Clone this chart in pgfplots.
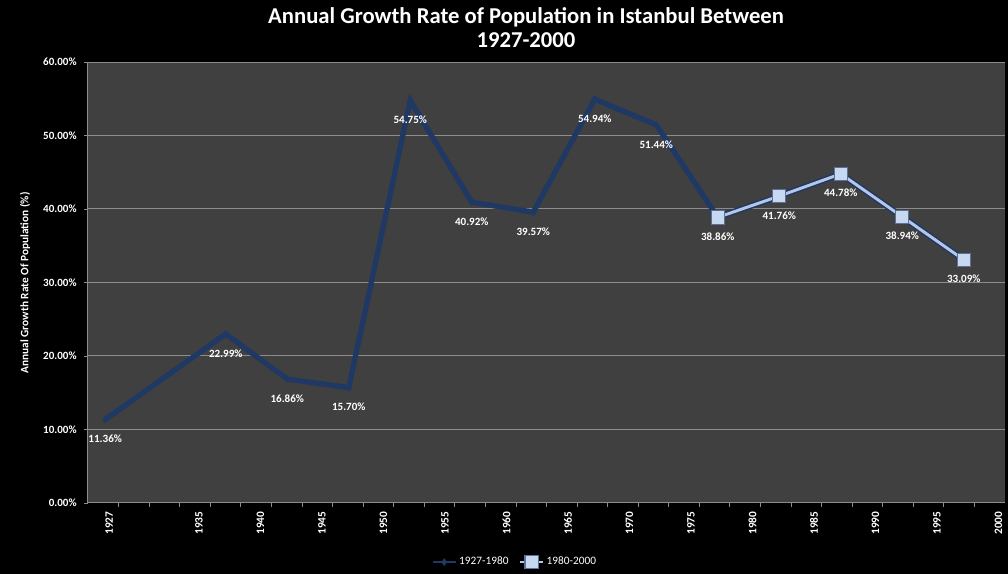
\documentclass[border=0pt]{standalone}
\usepackage{fontspec}
\setmainfont{Carlito}
\usepackage{pgfplots}
\pgfplotsset{compat=1.18}
\definecolor{bgplot}{HTML}{404040}
\definecolor{navy}{HTML}{1F3864}
\definecolor{lightb}{HTML}{B4C7E7}
\definecolor{markb}{HTML}{C6D9F1}
\definecolor{gridc}{HTML}{8C8C8C}
\begin{document}
\begin{tikzpicture}
\fill[black] (-66pt,-53.25pt) rectangle (690pt,377.25pt);
\useasboundingbox (-66pt,-53.25pt) rectangle (690pt,377.25pt);
\begin{axis}[at={(0,0)}, anchor=south west, scale only axis,
  width=687.75pt, height=330.75pt,
  xmin=1926.3, xmax=2000.85, ymin=0, ymax=60,
  axis background/.style={fill=bgplot},
  axis x line*=bottom, axis y line*=left,
  axis line style={draw=gridc, line width=0.75pt},
  ymajorgrids, grid style={draw=gridc, line width=0.75pt},
  ytick={0,10,20,30,40,50,60},
  yticklabels={0.00\%,10.00\%,20.00\%,30.00\%,40.00\%,50.00\%,60.00\%},
  xtick={1927.7,1935,1940,1945,1950,1955,1960,1965,1970,1975,1980,1985,1990,1995,2000},
  xticklabels={1927,1935,1940,1945,1950,1955,1960,1965,1970,1975,1980,1985,1990,1995,2000},
  minor xtick={1928.785,1931.27,1933.755,1936.24,1938.725,1941.21,1943.695,1946.18,1948.665,1951.15,1953.635,1956.12,1958.605,1961.09,1963.575,1966.06,1968.545,1971.03,1973.515,1976,1978.485,1980.97,1983.455,1985.94,1988.425,1990.91,1993.395,1995.88,1998.365},
  tick align=outside,
  major x tick style={draw=none},
  minor x tick style={draw=gridc, line width=0.6pt},
  minor tick length=3pt,
  ytick style={draw=gridc, line width=0.6pt},
  major tick length=3pt,
  /pgf/number format/assume math mode=true,
  x tick label style={rotate=90, anchor=east, font=\fontsize{8.5}{9}\selectfont\bfseries, text=white, yshift=-3pt},
  y tick label style={font=\fontsize{8.3}{9}\selectfont\bfseries, text=white, xshift=-2pt},
  ylabel={Annual Growth Rate Of Population (\%)},
  ylabel style={at={(axis description cs:-0.0687,0.499)}, anchor=center, rotate=0, font=\fontsize{8.5}{9}\selectfont\bfseries, text=white},
  legend style={at={(axis description cs:0.466,-0.134)}, anchor=center, draw=none, fill=none, text=white, font=\fontsize{8.5}{9}\selectfont, legend columns=2, /tikz/every even column/.append style={column sep=6pt}},
  legend image post style={line width=1.4pt},
  clip=false,
  lbl/.style={nodes near coords={\pgfmathprintnumber[fixed,fixed zerofill,precision=2]{\pgfplotspointmeta}\%},
    point meta=y,
    every node near coord/.append style={anchor=center, yshift=-14.5pt, text=white, font=\fontsize{8.3}{9}\selectfont\bfseries, inner sep=0pt}},
]
\addplot[color=navy, line width=4pt, mark=diamond*, mark size=2.5pt, mark options={fill=navy, line width=0.5pt}, lbl]
  table {
x y
1927.7 11.36
1937.5 22.99
1942.5 16.86
1947.5 15.70
1952.5 54.75
1957.5 40.92
1962.5 39.57
1967.5 54.94
1972.5 51.44
1977.5 38.86
};
\addlegendentry{1927-1980}
\addplot[forget plot, color=navy, line width=4.5pt] coordinates {
(1977.5,38.86) (1982.5,41.76) (1987.5,44.78) (1992.5,38.94) (1997.5,33.09)};
\addplot[color=lightb, line width=2.2pt, mark=square*, mark size=5pt, mark options={fill=markb, draw=navy!60!lightb, line width=0.8pt}]
  table {
x y
1977.5 38.86
1982.5 41.76
1987.5 44.78
1992.5 38.94
1997.5 33.09
};
\addlegendentry{1980-2000}
\addplot[forget plot, draw=none, mark=none, lbl] table {
x y
1982.5 41.76
1987.5 44.78
1992.5 38.94
1997.5 33.09
};
\end{axis}
\node[text=white, font=\fontsize{17}{19}\selectfont\bfseries] at (328.5pt,364.5pt) {Annual Growth Rate of Population in Istanbul Between};
\node[text=white, font=\fontsize{17}{19}\selectfont\bfseries] at (328.5pt,347.25pt) {1927-2000};
\end{tikzpicture}
\end{document}
